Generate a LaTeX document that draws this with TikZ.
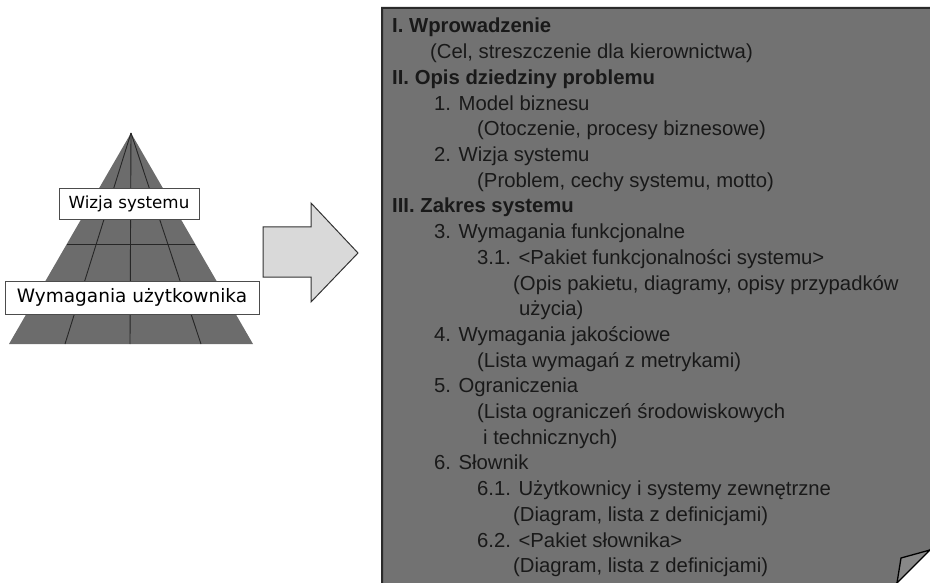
\documentclass[tikz,border=0pt]{standalone}
\usepackage{fontspec}
\usetikzlibrary{calc}
\setmainfont{Liberation Sans}
\newfontfamily\dejavu{DejaVu Sans}
\definecolor{pagegray}{HTML}{727272}
\definecolor{pyrgray}{HTML}{6C6C6C}
\definecolor{arrowgray}{HTML}{D9D9D9}
\definecolor{flapgray}{HTML}{888888}
\definecolor{edgegray}{HTML}{2A2A2A}
\begin{document}
\begin{tikzpicture}[x=1pt,y=-1pt,
  txt/.style={anchor=base west,inner sep=0pt,font=\fontsize{20.3}{24}\selectfont,text=black!90},
  hd/.style={txt,font=\fontsize{20.3}{24}\selectfont\bfseries},
  lbl/.style={draw=black!70,line width=0.8pt,fill=white,inner sep=0pt,font=\dejavu}]
\useasboundingbox (0,0) rectangle (930,583);
\begin{scope}
\clip (0,0) rectangle (930,583);
% page
\draw[fill=pagegray,draw=edgegray,line width=2pt]
  (382,8) -- (960,8) -- (960,520) -- (867,613) -- (382,613) -- cycle;
\fill[white] (930,550) -- (960,520) -- (960,620) -- (860,620) -- (897,583) -- cycle;
\draw[fill=flapgray,draw=black,line width=1.3pt,line join=round]
  (901,558) -- (930,550) -- (897,583) -- cycle;
\end{scope}
% pyramid
\coordinate (apex) at (131,133);
\coordinate (bl) at (9,344);
\coordinate (br) at (253,344);
\fill[pyrgray] (apex) -- (bl) -- (br) -- cycle;
\begin{scope}[draw=black!85,line width=0.9pt]
\draw (apex) -- (65,344);
\draw (apex) -- (130,344);
\draw (apex) -- (201,344);
\draw ($(apex)!0.526!(bl)$) -- ($(apex)!0.526!(br)$);
\end{scope}
\node[lbl,minimum width=140pt,minimum height=31pt,font=\dejavu\fontsize{16.7}{20}\selectfont] (wizja) at (129,203.5) {Wizja systemu};
\node[lbl,minimum width=254pt,minimum height=33pt,font=\dejavu\fontsize{18.5}{22}\selectfont] (wym) at (132,297.5) {Wymagania użytkownika};
% arrow
\draw[fill=arrowgray,draw=black!80,line width=1pt,line join=miter]
  (263,227) -- (311,227) -- (311,203) -- (358,253) -- (311,302) -- (311,277) -- (263,277) -- cycle;
% text
\node[hd]  (l1)  at (392,33.0)  {I. Wprowadzenie};
\node[txt] (l2)  at (430,58.7)  {(Cel, streszczenie dla kierownictwa)};
\node[hd]  (l3)  at (392,84.4)  {II. Opis dziedziny problemu};
\node[txt] (l4)  at (434,110.1) {1. Model biznesu};
\node[txt] (l5)  at (477,135.8) {(Otoczenie, procesy biznesowe)};
\node[txt] (l6)  at (434,161.5) {2. Wizja systemu};
\node[txt] (l7)  at (477,187.2) {(Problem, cechy systemu, motto)};
\node[hd]  (l8)  at (392,212.9) {III. Zakres systemu};
\node[txt] (l9)  at (434,238.6) {3. Wymagania funkcjonalne};
\node[txt] (l10) at (477,264.3) {3.1. <Pakiet funkcjonalności systemu>};
\node[txt] (l11) at (513,290.0) {(Opis pakietu, diagramy, opisy przypadków};
\node[txt] (l12) at (519,315.7) {użycia)};
\node[txt] (l13) at (434,341.4) {4. Wymagania jakościowe};
\node[txt] (l14) at (477,367.1) {(Lista wymagań z metrykami)};
\node[txt] (l15) at (434,392.8) {5. Ograniczenia};
\node[txt] (l16) at (477,418.5) {(Lista ograniczeń środowiskowych};
\node[txt] (l17) at (483,444.2) {i technicznych)};
\node[txt] (l18) at (434,469.9) {6. Słownik};
\node[txt] (l19) at (477,495.6) {6.1. Użytkownicy i systemy zewnętrzne};
\node[txt] (l20) at (513,521.3) {(Diagram, lista z definicjami)};
\node[txt] (l21) at (477,547.0) {6.2. <Pakiet słownika>};
\node[txt] (l22) at (513,572.7) {(Diagram, lista z definicjami)};
\end{tikzpicture}
\end{document}
